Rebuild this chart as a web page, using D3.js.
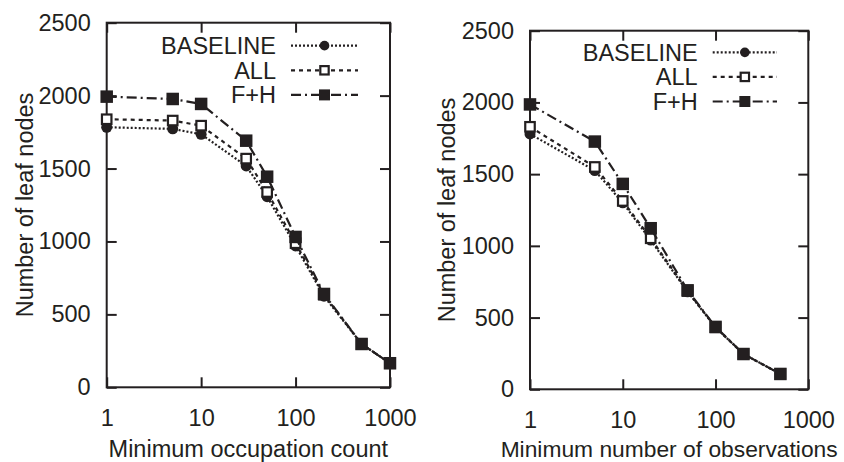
<!DOCTYPE html>
<html>
<head>
<meta charset="utf-8">
<script src="https://cdn.jsdelivr.net/npm/d3@7"></script>
<style>
  html, body { margin: 0; padding: 0; background: #fff; }
  svg { display: block; font-family: "Liberation Sans", Arial, sans-serif; }
</style>
</head>
<body>
<div id="chart"></div>
<script>
const INK = "#231f20";

// left panel: minimum occupation count
const occX = [1, 5, 10, 30, 50, 100, 200, 500, 1000];
const occBaseline = [1783, 1772, 1735, 1518, 1307, 969, 625, 297, 165];
const occAll = [1838, 1829, 1794, 1568, 1339, 988, 635, 297, 165];
const occFH = [1993, 1977, 1943, 1691, 1444, 1031, 640, 297, 165];

// right panel: minimum number of observations
const obsX = [1, 5, 10, 20, 50, 100, 200, 500];
const obsBaseline = [1780, 1525, 1300, 1040, 680, 432, 246, 107];
const obsAll = [1830, 1550, 1313, 1053, 685, 432, 246, 107];
const obsFH = [1986, 1727, 1432, 1123, 690, 435, 246, 107];

const xTicks = [1, 10, 100, 1000];
const yTicks = [0, 500, 1000, 1500, 2000, 2500];
const seriesNames = ["BASELINE", "ALL", "F+H"];

const styles = {
  "BASELINE": { dash: "2,2", marker: "circle" },
  "ALL": { dash: "4,4", marker: "openSquare" },
  "F+H": { dash: "10,4,2,4", marker: "square" },
};

const panels = [
  {
    box: { left: 106.7, right: 390, top: 22.7, bottom: 387.3 },
    xs: occX, series: [occBaseline, occAll, occFH],
    xTitle: "Minimum occupation count", xTitleSize: 23.5, yTitleX: 33,
    legend: { textX: 276, lineX0: 291, lineX1: 358, y0: 45.7, dy: 24.6 },
  },
  {
    box: { left: 530, right: 808.3, top: 30.7, bottom: 389.3 },
    xs: obsX, series: [obsBaseline, obsAll, obsFH],
    xTitle: "Minimum number of observations", xTitleSize: 22.8, yTitleX: 455,
    legend: { textX: 697.7, lineX0: 712.7, lineX1: 777, y0: 52.3, dy: 24.6 },
  },
];

const svg = d3.select("#chart").append("svg")
  .attr("width", 844).attr("height", 462);

function drawMarker(g, type, cx, cy, big) {
  const k = big ? 1 : 0.88;
  if (type === "circle") {
    g.append("circle").attr("cx", cx).attr("cy", cy).attr("r", 5.5 * k).attr("fill", INK);
  } else if (type === "openSquare") {
    const s = 9.5 * k;
    g.append("rect").attr("x", cx - s / 2).attr("y", cy - s / 2).attr("width", s).attr("height", s)
      .attr("fill", "#fff").attr("stroke", INK).attr("stroke-width", 2.2);
  } else {
    const s = 12.5 * k;
    g.append("rect").attr("x", cx - s / 2).attr("y", cy - s / 2).attr("width", s).attr("height", s)
      .attr("fill", INK);
  }
}

panels.forEach(p => {
  const b = p.box;
  const x = d3.scaleLog().domain([1, 1000]).range([b.left, b.right]);
  const y = d3.scaleLinear().domain([0, 2500]).range([b.bottom, b.top]);
  const g = svg.append("g");

  const styleAxis = sel => sel
    .attr("font-family", null).attr("font-size", null)
    .call(s => s.select(".domain").remove())
    .call(s => s.selectAll(".tick line").attr("stroke", INK).attr("stroke-width", 2))
    .call(s => s.selectAll(".tick text").attr("fill", INK).attr("font-size", 23.5));

  // axes with inside ticks on all four sides
  g.append("g").attr("transform", `translate(0,${b.bottom})`)
    .call(d3.axisBottom(x).tickValues(xTicks).tickFormat(d3.format("d")).tickSize(-10).tickPadding(22))
    .call(styleAxis);
  g.append("g").attr("transform", `translate(0,${b.top})`)
    .call(d3.axisTop(x).tickValues(xTicks).tickFormat("").tickSize(-10))
    .call(styleAxis);
  g.append("g").attr("transform", `translate(${b.left},0)`)
    .call(d3.axisLeft(y).tickValues(yTicks).tickFormat(d3.format("d")).tickSize(-10).tickPadding(16))
    .call(styleAxis);
  g.append("g").attr("transform", `translate(${b.right},0)`)
    .call(d3.axisRight(y).tickValues(yTicks).tickFormat("").tickSize(-10))
    .call(styleAxis);

  g.append("rect")
    .attr("x", b.left).attr("y", b.top)
    .attr("width", b.right - b.left).attr("height", b.bottom - b.top)
    .attr("fill", "none").attr("stroke", INK).attr("stroke-width", 2);

  // axis titles
  g.append("text")
    .attr("x", (b.left + b.right) / 2).attr("y", 456.5)
    .attr("text-anchor", "middle").attr("fill", INK).attr("font-size", p.xTitleSize)
    .text(p.xTitle);
  g.append("text")
    .attr("transform", `translate(${p.yTitleX},${(b.top + b.bottom) / 2}) rotate(-90)`)
    .attr("text-anchor", "middle").attr("fill", INK).attr("font-size", 23.5)
    .text("Number of leaf nodes");

  const line = d3.line().x(d => x(d[0])).y(d => y(d[1]));

  seriesNames.forEach((name, i) => {
    const st = styles[name];
    const pts = p.xs.map((v, j) => [v, p.series[i][j]]);
    g.append("path").datum(pts)
      .attr("d", line).attr("fill", "none")
      .attr("stroke", INK).attr("stroke-width", 2.2)
      .attr("stroke-dasharray", st.dash);
    pts.forEach(d => drawMarker(g, st.marker, x(d[0]), y(d[1]), true));

    // legend row
    const L = p.legend;
    const ly = L.y0 + i * L.dy;
    g.append("text")
      .attr("x", L.textX).attr("y", ly).attr("dy", "0.35em")
      .attr("text-anchor", "end").attr("fill", INK).attr("font-size", 23.5)
      .text(name);
    g.append("line")
      .attr("x1", L.lineX0).attr("x2", L.lineX1).attr("y1", ly).attr("y2", ly)
      .attr("stroke", INK).attr("stroke-width", 2.2).attr("stroke-dasharray", st.dash);
    drawMarker(g, st.marker, (L.lineX0 + L.lineX1) / 2, ly, false);
  });
});
</script>
</body>
</html>
